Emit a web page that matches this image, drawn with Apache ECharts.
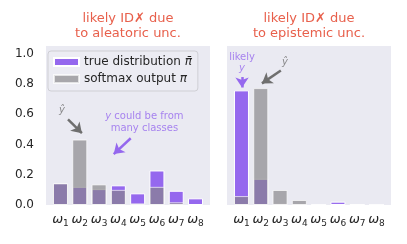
<!DOCTYPE html>
<html><head><meta charset="utf-8">
<script src="https://cdn.jsdelivr.net/npm/echarts@6/dist/echarts.min.js"></script>
<style>html,body{margin:0;padding:0;background:#fff}#c{width:407px;height:244px}</style>
</head><body><div id="c"></div>
<script>
// ---- data ----
const classSubs = ['1','2','3','4','5','6','7','8'];
const yTicks = [0, 0.2, 0.4, 0.6, 0.8, 1.0];
const seriesNames = ['true distribution', 'softmax output'];
// left panel: aleatoric
const aleaTrue    = [0.145, 0.120, 0.105, 0.130, 0.077, 0.228, 0.094, 0.044];
const aleaSoftmax = [0.143, 0.432, 0.136, 0.100, 0.011, 0.120, 0.018, 0.004];
// right panel: epistemic
const episTrue    = [0.757, 0.173, 0.011, 0.001, 0.000, 0.022, 0.001, 0.000];
const episSoftmax = [0.059, 0.772, 0.099, 0.033, 0.003, 0.007, 0.002, 0.001];

const PURPLE = '#9568ee';
const GRAYC = 'rgb(134,133,136)';
const GRAY_OP = 0.67;
const ARROW_GRAY = '#6f6f6f';
const FONT = 'DejaVu Sans';

const toXY = arr => arr.map((v, i) => [i, v]);

function barPair(trueArr, softArr, idx) {
  return [
    { name: seriesNames[0], type: 'bar', xAxisIndex: idx, yAxisIndex: idx,
      barWidth: 15, barGap: '-100%', data: toXY(trueArr),
      itemStyle: { color: PURPLE, borderColor: '#fff', borderWidth: 1 } },
    { name: seriesNames[1], type: 'bar', xAxisIndex: idx, yAxisIndex: idx,
      barWidth: 15, barGap: '-100%', data: toXY(softArr),
      itemStyle: { color: GRAYC, opacity: GRAY_OP, borderColor: '#fff', borderWidth: 1 } }
  ];
}

function xAxisDef(idx) {
  return {
    type: 'value', gridIndex: idx, min: -0.75, max: 7.75,
    axisLine: { show: false }, axisTick: { show: false }, splitLine: { show: false },
    axisLabel: {
      customValues: classSubs.map((s, i) => i), margin: 7,
      formatter: v => '{w|ω}{s|' + classSubs[v] + '}',
      rich: {
        w: { fontFamily: FONT, fontStyle: 'italic', fontSize: 13, color: '#262626' },
        s: { fontFamily: FONT, fontSize: 9, color: '#262626', padding: [7, 0, 0, 0] }
      }
    }
  };
}
function yAxisDef(idx, showLabels) {
  return {
    type: 'value', gridIndex: idx, min: 0, max: 1.05,
    axisLine: { show: false }, axisTick: { show: false }, splitLine: { show: false },
    axisLabel: {
      show: showLabels, customValues: yTicks, margin: 12,
      fontFamily: FONT, fontSize: 12, color: '#262626',
      formatter: v => v.toFixed(1)
    }
  };
}

function textPoint(idx, x, y, fmt, rich) {
  return { type: 'scatter', xAxisIndex: idx, yAxisIndex: idx, symbolSize: 0, silent: true,
    data: [[x, y]], z: 10,
    label: { show: true, position: 'inside', formatter: fmt, align: 'center',
      fontFamily: FONT, rich: rich } };
}
function arrow(color, from, to) {
  return { silent: true, symbol: ['none', 'arrow'], symbolSize: 10, label: { show: false },
    emphasis: { disabled: true },
    lineStyle: { color: color, width: 2.5, type: 'solid', opacity: 1 },
    data: [[{ coord: from, symbol: 'none' }, { coord: to, symbol: 'arrow', symbolSize: 10 }]] };
}

const chart = echarts.init(document.getElementById('c'), null, { renderer: 'canvas' });
const titleStyle = { fontFamily: FONT, fontSize: 13, fontWeight: 'normal', color: '#e8604c', lineHeight: 15 };
chart.setOption({
  animation: false,
  title: [
    { text: 'likely ID✗ due\nto aleatoric unc.', left: 128, top: 11, textAlign: 'center', textStyle: titleStyle, padding: 0 },
    { text: 'likely ID✗ due\nto epistemic unc.', left: 309, top: 11, textAlign: 'center', textStyle: titleStyle, padding: 0 }
  ],
  grid: [
    { left: 46, top: 46, width: 164, height: 159, show: true, backgroundColor: '#eaeaf2', borderWidth: 0 },
    { left: 227, top: 46, width: 164, height: 159, show: true, backgroundColor: '#eaeaf2', borderWidth: 0 }
  ],
  xAxis: [xAxisDef(0), xAxisDef(1)],
  yAxis: [yAxisDef(0, true), yAxisDef(1, false)],
  legend: {
    data: seriesNames, orient: 'vertical', left: 48, top: 51, padding: [5, 6, 6, 5], itemGap: 5,
    itemWidth: 25, itemHeight: 8, icon: 'rect',
    backgroundColor: 'rgba(236,236,243,0.9)', borderColor: '#cfcfd4', borderWidth: 1, borderRadius: 3,
    formatter: n => n === seriesNames[0] ? n + ' {i|π\u0304}' : n + ' {i|π}',
    textStyle: { fontFamily: FONT, fontSize: 12, color: '#262626',
      rich: { i: { fontFamily: FONT, fontStyle: 'italic', fontSize: 12, color: '#262626' } } }
  },
  series: [
    ...barPair(aleaTrue, aleaSoftmax, 0),
    ...barPair(episTrue, episSoftmax, 1),
    Object.assign(textPoint(0, 0.08, 0.625, '{g|y\u0302}', { g: { fontFamily: FONT, fontStyle: 'italic', fontSize: 10, color: ARROW_GRAY } }), {
      markLine: arrow(ARROW_GRAY, [0.39, 0.566], [1.11, 0.474])
    }),
    Object.assign(textPoint(0, 4.35, 0.545, '{i|y}{p| could be from}\n{p|many classes}', {
      i: { fontFamily: FONT, fontStyle: 'italic', fontSize: 10, color: PURPLE, lineHeight: 12 },
      p: { fontFamily: FONT, fontSize: 10, color: PURPLE, lineHeight: 12 } }), {
      markLine: arrow(PURPLE, [3.64, 0.441], [2.76, 0.336])
    }),
    Object.assign(textPoint(1, 0.03, 0.94, '{p|likely}\n{i|y}', {
      i: { fontFamily: FONT, fontStyle: 'italic', fontSize: 10, color: PURPLE, lineHeight: 11, align: 'center' },
      p: { fontFamily: FONT, fontSize: 10, color: PURPLE, lineHeight: 11, align: 'center' } }), {
      markLine: arrow(PURPLE, [0.03, 0.845], [0.03, 0.776])
    }),
    Object.assign(textPoint(1, 2.25, 0.94, '{g|y\u0302}', { g: { fontFamily: FONT, fontStyle: 'italic', fontSize: 10, color: ARROW_GRAY } }), {
      markLine: arrow(ARROW_GRAY, [2.04, 0.888], [1.06, 0.803])
    })
  ]
});
</script></body></html>
